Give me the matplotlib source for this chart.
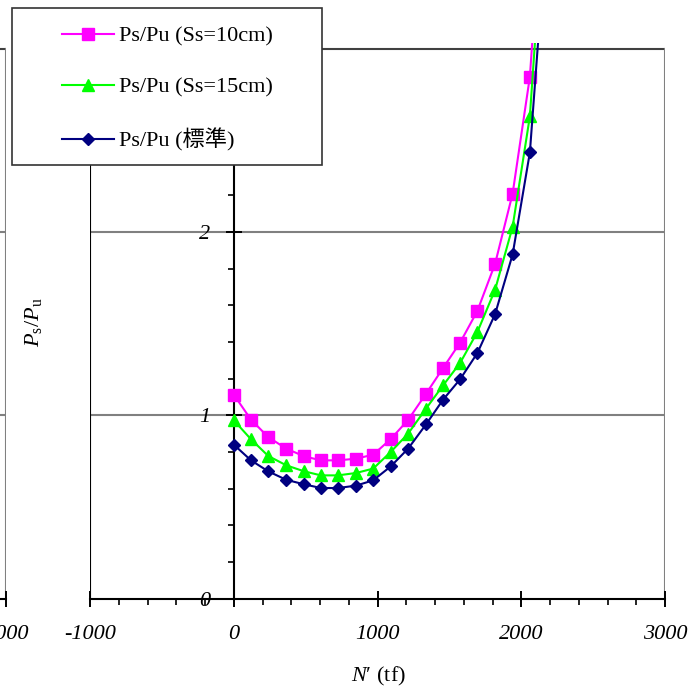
import numpy as np
import matplotlib.pyplot as plt
from matplotlib.ticker import MultipleLocator
from matplotlib.patches import Rectangle

plt.rcParams['font.family'] = ['Liberation Serif', 'Noto Sans CJK JP']
plt.rcParams['mathtext.fontset'] = 'custom'
plt.rcParams['mathtext.rm'] = 'Liberation Serif'
plt.rcParams['mathtext.it'] = 'Liberation Serif:italic'
plt.rcParams['axes.unicode_minus'] = False

# N' (tf) at each computed point
n_load = [0, 120, 240, 365, 490, 607, 725, 850, 970, 1092, 1213,
          1338, 1457, 1575, 1695, 1818, 1940, 2060, 2180]
# Ps/Pu for the three cases
ps_pu_10 = [1.113, 0.976, 0.881, 0.818, 0.776, 0.754, 0.754, 0.763, 0.785, 0.870,
            0.975, 1.118, 1.259, 1.397, 1.570, 1.827, 2.210, 2.848, 4.2]
ps_pu_15 = [0.973, 0.869, 0.778, 0.727, 0.694, 0.672, 0.672, 0.685, 0.709, 0.800,
            0.900, 1.037, 1.164, 1.286, 1.455, 1.685, 2.029, 2.632, 4.0]
ps_pu_std = [0.840, 0.754, 0.694, 0.648, 0.623, 0.603, 0.603, 0.616, 0.645, 0.721,
             0.818, 0.951, 1.086, 1.197, 1.340, 1.552, 1.878, 2.435, 3.7]
labels = ['Ps/Pu (Ss=10cm)', 'Ps/Pu (Ss=15cm)', 'Ps/Pu (標準)']

x_ticks = [-1000, 0, 1000, 2000, 3000]
x_ticklabels = ['-1000', '0', '1000', '2000', '3000']
y_ticks = [0, 1, 2, 3]
y_ticklabels = ['0', '1', '2', '']

colors = ['#FF00FF', '#00FF00', '#000080']
markers = ['s', '^', 'D']
msizes = [8.5, 9.0, 6.2]

W, H = 699, 690
YTOP = 3.032


def px_box(x0, y0, x1, y1):
    # pixel box (top-left origin) -> figure fraction [left, bottom, w, h]
    return [x0 / W, 1 - y1 / H, (x1 - x0) / W, (y1 - y0) / H]


def draw_panel(ax, xlabels, ylabels):
    ax.set_xlim(-1000, 3000)
    ax.set_ylim(0, YTOP)
    for y in (1, 2):
        ax.axhline(y, color='#808080', lw=1.5, zorder=1)
    ax.axhline(3, color='#404040', lw=1.5, zorder=1)
    ax.axvline(-1000, ymax=3 / YTOP, color='k', lw=0.8, zorder=1)
    ax.axvline(3000, ymax=3 / YTOP, color='#808080', lw=1.5, zorder=1)
    lines = []
    for vals, c, m, ms, lab in zip([ps_pu_10, ps_pu_15, ps_pu_std], colors, markers, msizes, labels):
        ln, = ax.plot(n_load, vals, color=c, marker=m, ms=ms, lw=1.5, label=lab, zorder=3)
        lines.append(ln)
    ax.spines['top'].set_visible(False)
    ax.spines['right'].set_visible(False)
    ax.spines['left'].set_position(('data', 0))
    ax.spines['left'].set_bounds(0, 3)
    ax.spines['left'].set_linewidth(1.5)
    ax.spines['bottom'].set_linewidth(1.5)
    ax.set_xticks(x_ticks)
    ax.set_xticklabels(xlabels, fontstyle='italic', fontsize=16)
    ax.set_yticks(y_ticks)
    ax.set_yticklabels(ylabels, fontstyle='italic', fontsize=16)
    ax.xaxis.set_minor_locator(MultipleLocator(200))
    ax.yaxis.set_minor_locator(MultipleLocator(0.2))
    ax.tick_params(axis='x', which='major', direction='inout', length=11.5, width=1.4, pad=13)
    ax.tick_params(axis='x', which='minor', direction='out', length=4.5, width=1.2)
    ax.tick_params(axis='y', which='major', direction='inout', length=11.5, width=1.4, pad=11)
    ax.tick_params(axis='y', which='minor', direction='out', length=4, width=1.2)
    ax.patch.set_alpha(0)
    return lines


fig = plt.figure(figsize=(W / 100, H / 100), dpi=100)

# neighbouring chart whose right edge shows at the left border
ax_left = fig.add_axes(px_box(6 - 575, 43, 6, 598.5))
draw_panel(ax_left, ['', '', '', '', '3000'], ['', '', '', ''])

ax = fig.add_axes(px_box(90, 43, 665, 598.5))
lines = draw_panel(ax, x_ticklabels, y_ticklabels)

fig.text(33 / W, 1 - 322 / H, r'$P_{\rm s}/P_{\rm u}$', rotation=90,
         ha='center', va='center', fontsize=16)
fig.text(378 / W, 1 - 676 / H, r"$N$′ (tf)", ha='center', va='center', fontsize=16)

box = Rectangle((12 / W, 1 - 165 / H), 310 / W, 157 / H, transform=fig.transFigure,
                facecolor='white', edgecolor='#333333', lw=1.2, zorder=4)
fig.add_artist(box)
fig.legend(lines, labels, loc='upper left', bbox_to_anchor=(62 / W, 1 - 26 / H),
           frameon=False, borderpad=0, borderaxespad=0, fontsize=16,
           handlelength=52 / 22.2, handletextpad=5 / 22.2, labelspacing=1.38)

plt.savefig('out.png', dpi=100)
plt.close()
